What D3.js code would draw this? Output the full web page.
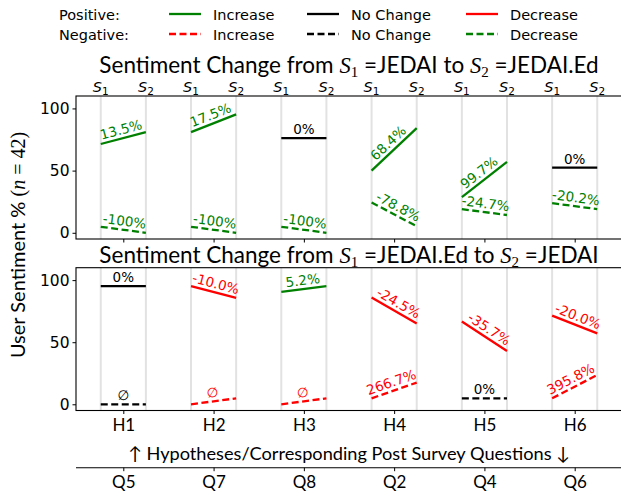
<!DOCTYPE html>
<html><head><meta charset="utf-8">
<script src="https://cdn.jsdelivr.net/npm/d3@7"></script>
<style>body{margin:0;background:#fff}svg{display:block}</style>
</head><body>
<script>
// ---------- data ----------
const hypotheses = ["H1","H2","H3","H4","H5","H6"];
const questions  = ["Q5","Q7","Q8","Q2","Q4","Q6"];
const yTicks = [0, 50, 100];

// Panel 1: S1 = JEDAI -> S2 = JEDAI.Ed
const topPosS1 = [71.4, 81.0, 76.2, 50.0, 28.6, 52.4];
const topPosS2 = [81.0, 95.2, 76.2, 84.2, 57.1, 52.4];
const topPosLabels = ["13.5%","17.5%","0%","68.4%","99.7%","0%"];
const topNegS1 = [4.8, 4.8, 4.8, 24.4, 19.0, 23.8];
const topNegS2 = [0.0, 0.0, 0.0, 5.2, 14.3, 19.0];
const topNegLabels = ["-100%","-100%","-100%","-78.8%","-24.7%","-20.2%"];

// Panel 2: S1 = JEDAI.Ed -> S2 = JEDAI
const botPosS1 = [95.2, 95.2, 90.5, 86.0, 66.7, 71.4];
const botPosS2 = [95.2, 85.7, 95.2, 65.0, 42.9, 57.1];
const botPosLabels = ["0%","-10.0%","5.2%","-24.5%","-35.7%","-20.0%"];
const botNegS1 = [0.0, 0.0, 0.0, 4.8, 4.8, 4.8];
const botNegS2 = [0.0, 4.8, 4.8, 17.5, 4.8, 23.6];
const botNegLabels = ["\u2205","\u2205","\u2205","266.7%","0%","395.8%"];

// ---------- layout ----------
const W = 621, H = 497;
const GREEN = "#008000", RED = "#ff0000", BLACK = "#000000";
const SANS = "'DejaVu Sans', sans-serif";
const TXT = "Lato, 'DejaVu Sans', sans-serif";
const SERIF = "'Liberation Serif', serif";

const svg = d3.select("body").append("svg").attr("width", W).attr("height", H);

const x = d3.scaleLinear().domain([-0.524, 5.524]).range([76, 622]);
const halfW = 0.25;

const panels = [
  {top: 96, bottom: 239, s1: topPosS1, s2: topPosS2, pl: topPosLabels, n1: topNegS1, n2: topNegS2, nl: topNegLabels, t1: "JEDAI", t2: "JEDAI.Ed"},
  {top: 267.7, bottom: 410.5, s1: botPosS1, s2: botPosS2, pl: botPosLabels, n1: botNegS1, n2: botNegS2, nl: botNegLabels, t1: "JEDAI.Ed", t2: "JEDAI"}
];

function posColor(a, b){ return b > a ? GREEN : (b < a ? RED : BLACK); }
function negColor(a, b){ return b > a ? RED : (b < a ? GREEN : BLACK); }

panels.forEach((p, pi) => {
  const y = d3.scaleLinear().domain([-5, 110]).range([p.bottom, p.top]);
  const g = svg.append("g");

  // grey S1/S2 guide lines
  hypotheses.forEach((h, i) => {
    [-halfW, halfW].forEach(off => {
      g.append("line").attr("x1", x(i+off)).attr("x2", x(i+off))
        .attr("y1", p.top).attr("y2", p.bottom)
        .attr("stroke", "#e2e2e2").attr("stroke-width", 2);
    });
  });

  function drawSeries(a, b, labels, colorFn, dashed){
    hypotheses.forEach((h, i) => {
      const x1 = x(i-halfW), x2 = x(i+halfW), y1 = y(a[i]), y2 = y(b[i]);
      const c = colorFn(a[i], b[i]);
      g.append("line").attr("x1", x1).attr("x2", x2).attr("y1", y1).attr("y2", y2)
        .attr("stroke", c).attr("stroke-width", 2.3)
        .attr("stroke-dasharray", dashed ? "7,3.5" : null);
      const ang = Math.atan2(y2 - y1, x2 - x1) * 180 / Math.PI;
      g.append("text")
        .attr("transform", `translate(${(x1+x2)/2},${(y1+y2)/2}) rotate(${ang})`)
        .attr("x", 0).attr("y", -4)
        .attr("text-anchor", "middle")
        .attr("font-family", SANS).attr("font-size", 13.5)
        .attr("fill", c).text(labels[i]);
    });
  }
  drawSeries(p.s1, p.s2, p.pl, posColor, false);
  drawSeries(p.n1, p.n2, p.nl, negColor, true);

  // y axis
  const yAxis = d3.axisLeft(y).tickValues(yTicks).tickSize(3.5).tickPadding(3);
  const ya = g.append("g").attr("transform", `translate(76,0)`).call(yAxis);
  ya.select(".domain").remove();
  ya.selectAll("text").attr("font-family", SANS).attr("font-size", 15.5).attr("fill", "#000");
  ya.selectAll("line").attr("stroke", "#000");

  // x axis (bottom)
  const xAxis = d3.axisBottom(x).tickValues(d3.range(6)).tickSize(3.5).tickPadding(5)
      .tickFormat(i => pi === 1 ? hypotheses[i] : "");
  const xa = g.append("g").attr("transform", `translate(0,${p.bottom})`).call(xAxis);
  xa.select(".domain").remove();
  xa.selectAll("text").attr("font-family", TXT).attr("font-size", 17).attr("fill", "#000");
  xa.selectAll("line").attr("stroke", "#000");

  // frame
  g.append("rect").attr("x", 76).attr("y", p.top).attr("width", 622 - 76).attr("height", p.bottom - p.top)
    .attr("fill", "none").attr("stroke", "#000").attr("stroke-width", 1.1);

  // title
  const tt = svg.append("text").attr("x", 349).attr("y", pi === 0 ? 73 : 262.5)
    .attr("text-anchor", "middle").attr("font-family", TXT).attr("font-size", 22.5).attr("fill", "#000");
  tt.append("tspan").text("Sentiment Change from ");
  tt.append("tspan").attr("font-family", SERIF).attr("font-style", "italic").text("S");
  tt.append("tspan").attr("font-family", SERIF).attr("font-size", 15).attr("dy", 4).text("1");
  tt.append("tspan").attr("dy", -4).text(" =" + p.t1 + " to ");
  tt.append("tspan").attr("font-family", SERIF).attr("font-style", "italic").text("S");
  tt.append("tspan").attr("font-family", SERIF).attr("font-size", 15).attr("dy", 4).text("2");
  tt.append("tspan").attr("dy", -4).text(" =" + p.t2);

  // S1/S2 labels on top of first panel
  if (pi === 0) {
    hypotheses.forEach((h, i) => {
      [["1", -halfW], ["2", halfW]].forEach(([s, off]) => {
        const t = svg.append("text").attr("x", x(i+off)).attr("y", 91.5)
          .attr("text-anchor", "middle").attr("font-family", SANS).attr("font-size", 14.5).attr("fill", "#000");
        t.append("tspan").attr("font-style", "italic").text("S");
        t.append("tspan").attr("font-size", 10.5).attr("dy", 3).text(s);
      });
    });
  }
});

// secondary axis with questions
const qa = svg.append("g").attr("transform", "translate(0,467.7)")
  .call(d3.axisBottom(x).tickValues(d3.range(6)).tickSize(3.5).tickPadding(5).tickFormat(i => questions[i]));
qa.select(".domain").attr("d", "M76,0H622").attr("stroke", "#000").attr("stroke-width", 1.1);
qa.selectAll("text").attr("font-family", TXT).attr("font-size", 17).attr("fill", "#000");
qa.selectAll("line").attr("stroke", "#000");

svg.append("text").attr("x", 349).attr("y", 459.5).attr("text-anchor", "middle")
  .attr("font-family", TXT).attr("font-size", 18.2).attr("fill", "#000")
  .text("\u2191 Hypotheses/Corresponding Post Survey Questions \u2193");

// y label
const yl = svg.append("text").attr("transform", "translate(25,245) rotate(-90)")
  .attr("text-anchor", "middle").attr("font-family", TXT).attr("font-size", 20).attr("fill", "#000");
yl.append("tspan").text("User Sentiment % ");
yl.append("tspan").attr("font-family", SERIF).text("(");
yl.append("tspan").attr("font-family", SERIF).attr("font-style", "italic").text("n");
yl.append("tspan").attr("font-family", SERIF).text(" = 42)");

// legend
const legRows = [
  {label: "Positive:", y: 14, dashed: false, items: [["Increase", GREEN], ["No Change", BLACK], ["Decrease", RED]]},
  {label: "Negative:", y: 34, dashed: true,  items: [["Increase", RED], ["No Change", BLACK], ["Decrease", GREEN]]}
];
const legX = [169, 307, 466];
legRows.forEach(r => {
  svg.append("text").attr("x", 59).attr("y", r.y + 5.5).attr("font-family", SANS).attr("font-size", 14.5)
    .attr("fill", "#000").text(r.label);
  r.items.forEach(([name, c], k) => {
    svg.append("line").attr("x1", legX[k]).attr("x2", legX[k] + 32).attr("y1", r.y).attr("y2", r.y)
      .attr("stroke", c).attr("stroke-width", 2.3).attr("stroke-dasharray", r.dashed ? "7,3.5" : null);
    svg.append("text").attr("x", legX[k] + 44).attr("y", r.y + 5.5).attr("font-family", SANS).attr("font-size", 14.5)
      .attr("fill", "#000").text(name);
  });
});
</script>
</body></html>
